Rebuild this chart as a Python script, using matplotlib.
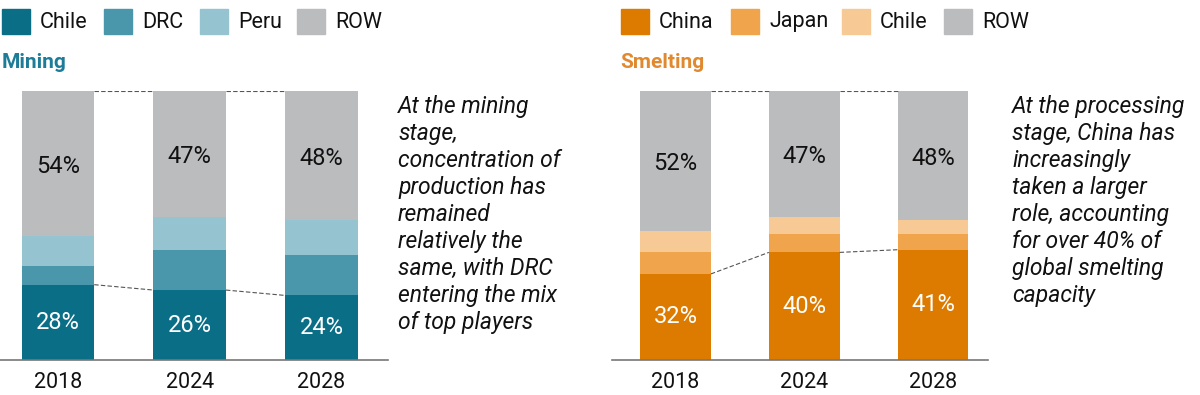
import matplotlib
matplotlib.use("Agg")
import matplotlib.pyplot as plt
from matplotlib.patches import Rectangle

plt.rcParams['font.family'] = ['Roboto', 'DejaVu Sans']

years = ['2018', '2024', '2028']

mining_names = ['Chile', 'DRC', 'Peru', 'ROW']
mining_chile = [28, 26, 24]
mining_drc = [7, 15, 15]
mining_peru = [11, 12, 13]
mining_row = [54, 47, 48]
mining_colors = ['#0B6E87', '#4A97AB', '#95C3D0', '#BBBCBE']

smelt_names = ['China', 'Japan', 'Chile', 'ROW']
smelt_china = [32, 40, 41]
smelt_japan = [8, 7, 6]
smelt_chile = [8, 6, 5]
smelt_row = [52, 47, 48]
smelt_colors = ['#DD7A00', '#F0A44C', '#F6C995', '#BBBCBE']

mining_note = ("At the mining\nstage,\nconcentration of\nproduction has\nremained\n"
               "relatively the\nsame, with DRC\nentering the mix\nof top players")
smelt_note = ("At the processing\nstage, China has\nincreasingly\ntaken a larger\n"
              "role, accounting\nfor over 40% of\nglobal smelting\ncapacity")

W, H = 1200, 395
fig = plt.figure(figsize=(12, 3.95), dpi=100)


def stacked(ax, series, colors, xlim):
    width = 0.55
    x = range(len(years))
    bottom = [0] * len(years)
    for vals, c in zip(series, colors):
        ax.bar(x, vals, width, bottom=bottom, color=c, linewidth=0)
        bottom = [b + v for b, v in zip(bottom, vals)]
    first = series[0]
    for i in range(len(years) - 1):
        xs = [i + width / 2, i + 1 - width / 2]
        ax.plot(xs, [first[i], first[i + 1]], ls=(0, (4, 2)), color='#555555', lw=0.8)
        ax.plot(xs, [bottom[i], bottom[i + 1]], ls=(0, (4, 2)), color='#555555', lw=0.8)
    for i in x:
        ax.text(i, first[i] / 2, f'{first[i]}%', ha='center', va='center',
                color='white', fontsize=17)
        top = bottom[i] - series[-1][i]
        ax.text(i, top + series[-1][i] * 0.48, f'{series[-1][i]}%', ha='center',
                va='center', color='#111111', fontsize=17)
    ax.set_xlim(*xlim)
    ax.set_ylim(0, 100)
    ax.set_xticks(list(x))
    ax.set_xticklabels(years, fontsize=15.5, color='#111111')
    ax.tick_params(axis='x', length=0, pad=9)
    ax.set_yticks([])
    for s in ['top', 'left', 'right']:
        ax.spines[s].set_visible(False)
    ax.spines['bottom'].set_color('#777777')
    ax.spines['bottom'].set_linewidth(1.2)


def legend(names, colors, xs):
    for n, c, x0 in zip(names, colors, xs):
        fig.patches.append(Rectangle((x0 / W, 1 - 34 / H), 28 / W, 25 / H,
                                     transform=fig.transFigure, color=c))
        fig.text((x0 + 38) / W, 1 - 22 / H, n, fontsize=15.5, va='center',
                 color='#111111')


ax1 = fig.add_axes([0 / W, 35 / H, 388 / W, 269 / H])
stacked(ax1, [mining_chile, mining_drc, mining_peru, mining_row], mining_colors,
        (-0.44, 2.505))
ax2 = fig.add_axes([612 / W, 35 / H, 376 / W, 269 / H])
stacked(ax2, [smelt_china, smelt_japan, smelt_chile, smelt_row], smelt_colors,
        (-0.493, 2.427))

legend(mining_names, mining_colors, [2, 104, 200, 297])
legend(smelt_names, smelt_colors, [621, 731, 842, 944])

fig.text(2 / W, 1 - 63 / H, 'Mining', fontsize=15, fontweight='bold',
         color='#1D7C98', va='center')
fig.text(620 / W, 1 - 63 / H, 'Smelting', fontsize=15, fontweight='bold',
         color='#E0892E', va='center')

fig.text(398 / W, 1 - 95 / H, mining_note, fontsize=16.5, style='italic',
         va='top', linespacing=1.22, color='#111111')
fig.text(1012 / W, 1 - 95 / H, smelt_note, fontsize=16.5, style='italic',
         va='top', linespacing=1.22, color='#111111')

fig.savefig('out.png', dpi=100)
